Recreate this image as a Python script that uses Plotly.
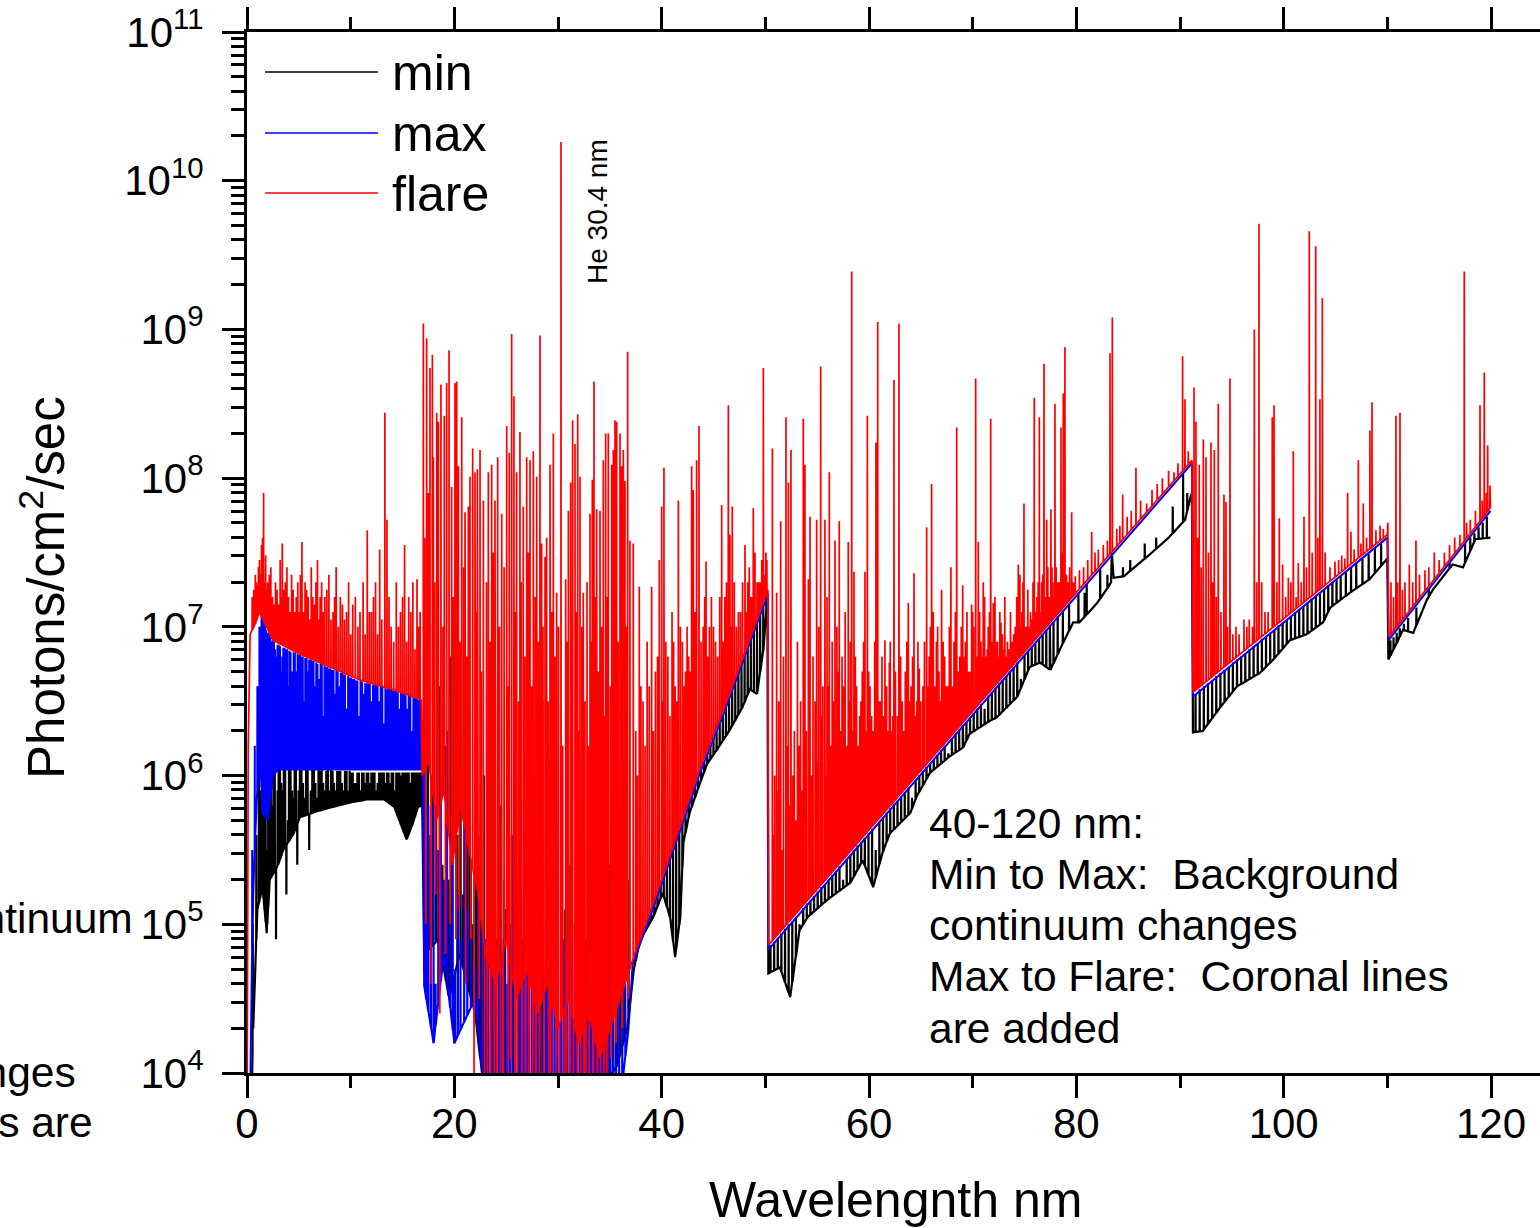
import numpy as np
import plotly.graph_objects as go

# ---------------- DATA (wavelength nm, log10 photons/cm^2/s) ----------------
# continuum knots and line tips

flare_continuum = [
    (0.00, 3.5), (0.12, 6.2), (0.30, 6.95), (0.80, 7.02), (1.20, 7.10), (2.50, 6.91), (5.00, 6.82),
    (8.00, 6.73), (11.0, 6.64), (14.0, 6.58), (16.80, 6.51),
    (16.90, 6.0), (17.5, 6.1), (18.3, 5.7), (19.0, 5.9), (19.8, 5.4), (20.6, 5.8), (21.4, 5.5),
    (22.3, 5.2), (23.0, 4.8), (24.0, 4.6), (25.0, 4.9), (26.0, 4.5), (27.0, 4.7), (28.0, 4.4),
    (29.0, 4.6), (30.0, 4.3), (31.0, 4.5), (32.0, 4.2), (33.0, 4.4), (34.0, 4.1), (35.0, 4.3),
    (36.0, 4.5), (37.2, 4.76), (40.0, 5.30), (43.7, 6.05), (46.0, 6.45), (48.0, 6.82), (50.25, 7.25),
    (50.30, 4.86), (91.15, 8.12), (91.25, 6.56), (110.0, 7.62), (110.05, 7.70), (110.12, 6.93),
    (119.95, 7.80),
]

flare_lines_xray = [
    (0.5, 7.20), (0.8, 7.35), (1.0, 7.28), (1.2, 7.45), (1.4, 7.55), (1.6, 7.90), (1.8, 7.48),
    (2.0, 7.30), (2.3, 7.40), (2.6, 7.15), (2.9, 7.25), (3.2, 7.45), (3.4, 7.56), (3.7, 7.30),
    (4.0, 7.20), (4.3, 7.35), (4.6, 7.10), (4.9, 7.30), (5.3, 7.57), (5.6, 7.30), (5.9, 7.20),
    (6.2, 7.40), (6.5, 7.15), (6.8, 7.45), (7.2, 7.30), (7.5, 7.20), (7.9, 7.35), (8.3, 7.10),
    (8.6, 7.40), (9.0, 7.20), (9.4, 7.05), (9.8, 7.30), (10.2, 7.15), (10.7, 7.00), (11.2, 7.30),
    (11.6, 7.65), (12.0, 7.10), (12.4, 7.30), (12.8, 7.52), (13.3, 8.44), (13.5, 7.72), (13.9, 7.00),
    (14.4, 7.30), (14.8, 7.10), (15.2, 7.55), (15.6, 7.20), (16.0, 7.30), (16.4, 7.32), (16.7, 7.10),
]

flare_lines_xray_weak = [
    (0.65, 7.25), (0.9, 7.3), (1.1, 7.4), (1.3, 7.35), (1.5, 7.6), (1.7, 7.3), (1.9, 7.25), (2.15, 7.35),
    (2.45, 7.2), (2.75, 7.3), (3.05, 7.15), (3.3, 7.2), (3.55, 7.25), (3.85, 7.4), (4.15, 7.1), (4.45, 7.25),
    (4.75, 7.2), (5.05, 7.1), (5.15, 7.35), (5.45, 7.1), (5.75, 7.25), (6.05, 7.05), (6.35, 7.2), (6.65, 7.3),
    (6.95, 7.05), (7.05, 7.2), (7.35, 7.1), (7.7, 7.25), (8.1, 7.05), (8.45, 7.2), (8.8, 7.0), (9.2, 7.15),
    (9.6, 7.1), (10.0, 6.95), (10.45, 7.2), (10.9, 7.1), (11.4, 6.95), (11.8, 7.1), (12.2, 7.2), (12.6, 6.95),
    (13.0, 7.05), (13.7, 7.2), (14.15, 6.9), (14.6, 7.0), (15.0, 7.2), (15.4, 6.9), (15.8, 7.1), (16.2, 6.85),
    (16.55, 7.0),
]

flare_lines_euv = [
    (17.01, 9.04), (17.33, 8.94), (17.65, 8.74), (17.88, 8.83), (17.97, 8.14), (18.30, 8.44),
    (18.46, 8.38), (18.71, 8.63), (19.03, 8.42), (19.26, 8.64), (19.49, 8.86), (19.74, 7.94),
    (20.06, 8.64), (20.23, 8.65), (20.39, 8.08), (20.71, 8.41), (21.03, 7.77), (21.35, 7.81),
    (21.51, 8.01), (21.77, 8.20), (21.99, 8.04), (22.22, 8.06), (22.48, 8.19), (22.80, 7.85),
    (23.28, 8.04), (23.60, 8.09), (23.92, 7.85), (24.18, 8.14), (24.57, 7.76), (25.05, 8.35),
    (25.30, 8.17), (25.53, 8.97), (25.75, 8.55), (26.01, 8.04), (26.33, 8.31), (26.65, 7.81),
    (26.98, 8.14), (27.30, 8.12), (27.62, 8.18), (27.94, 8.01), (28.26, 8.96), (28.42, 7.56),
    (28.75, 7.47), (29.23, 8.09), (29.55, 8.30), (29.87, 7.23), (30.29, 10.26), (30.74, 7.32),
    (31.00, 7.78), (31.22, 7.97), (31.41, 8.39), (31.64, 8.23), (31.90, 8.43), (32.12, 8.01),
    (32.44, 7.23), (33.09, 7.76), (33.31, 7.99), (33.47, 8.65), (33.73, 7.79), (34.05, 7.78),
    (34.37, 8.12), (34.60, 8.30), (34.85, 8.30), (35.18, 8.09), (35.34, 8.19), (35.50, 8.39),
    (35.66, 8.38), (35.98, 8.30), (36.14, 8.08), (36.30, 8.19), (36.46, 7.98), (36.72, 8.85),
    (36.94, 7.58),
]

flare_lines_euv_weak = [
    (17.15, 7.6), (17.5, 7.9), (18.1, 7.3), (18.9, 7.0), (19.9, 7.2), (20.55, 6.9), (20.9, 7.4),
    (21.2, 6.8), (22.05, 7.1), (22.6, 6.7), (23.1, 7.3), (23.45, 6.9), (23.75, 7.5), (24.35, 7.0),
    (24.8, 7.4), (25.15, 6.6), (25.9, 7.1), (26.2, 6.5), (26.45, 7.3), (26.8, 6.8), (27.15, 7.5),
    (27.45, 6.6), (27.8, 7.2), (28.1, 6.9), (28.55, 7.0), (28.9, 7.6), (29.05, 6.5), (29.4, 7.1),
    (29.7, 6.8), (30.05, 7.0), (30.45, 6.2), (30.9, 6.9), (31.3, 6.6), (31.75, 7.1), (32.0, 6.3),
    (32.3, 7.0), (32.6, 6.5), (32.8, 7.3), (32.95, 6.2), (33.2, 6.9), (33.6, 7.2), (33.9, 6.7),
    (34.2, 7.0), (34.5, 6.4), (34.75, 7.2), (35.05, 6.6), (35.4, 7.0), (35.8, 6.9), (36.05, 7.3),
    (36.6, 7.0),
]

flare_dips_euv = [
    (17.25, 5.0), (17.75, 4.6), (18.2, 5.2), (18.6, 4.4), (19.15, 4.8), (19.6, 5.0), (20.15, 4.9),
    (20.5, 5.1), (21.1, 4.6), (21.6, 4.9), (21.9, 4.0), (22.4, 4.5), (22.9, 3.8), (23.2, 4.0),
    (23.5, 3.8), (23.85, 3.9), (24.1, 3.8), (24.45, 4.0), (24.7, 3.8), (25.2, 3.8), (25.45, 4.1),
    (25.85, 3.8), (26.1, 3.9), (26.55, 3.8), (26.9, 4.0), (27.2, 3.8), (27.55, 3.9), (27.85, 3.8),
    (28.2, 3.9), (28.65, 3.8), (29.1, 3.9), (29.3, 3.8), (29.8, 4.0), (30.15, 3.8), (30.6, 3.9),
    (30.8, 3.8), (31.15, 3.9), (31.5, 3.8), (31.85, 4.0), (32.2, 3.8), (32.5, 3.9), (32.7, 3.8),
    (33.0, 3.9), (33.4, 3.8), (33.8, 4.0), (34.1, 3.8), (34.45, 4.0), (34.7, 3.9), (35.1, 4.1),
    (35.6, 4.2), (36.2, 4.3), (36.8, 4.5),
]

flare_lines_40_50 = [
    (37.26, 7.56), (37.5, 6.3), (37.84, 7.27), (38.2, 6.5), (38.6, 6.9), (39.03, 7.27), (39.4, 6.7),
    (39.77, 7.45), (40.00, 7.81), (40.22, 8.07), (40.6, 6.8), (41.0, 7.1), (41.3, 6.6), (41.61, 7.85),
    (42.0, 6.9), (42.3, 6.7), (42.6, 6.8), (42.89, 8.08), (43.05, 7.92), (43.37, 8.12), (43.60, 8.35),
    (44.0, 7.0), (44.28, 7.44), (44.6, 7.0), (45.0, 7.0), (45.4, 6.8), (45.79, 7.82), (46.1, 7.2),
    (46.43, 8.49), (46.59, 7.62), (46.81, 7.81), (47.2, 7.0), (47.6, 7.1), (48.04, 7.55), (48.3, 7.3),
    (48.6, 7.2), (48.84, 7.80), (49.2, 7.3), (49.5, 7.3), (49.81, 8.74), (50.05, 7.5),
]

flare_lines_40_50_weak = [
    (37.65, 6.0), (38.0, 6.6), (38.4, 6.2), (38.8, 6.6), (39.2, 6.3), (39.6, 6.8), (40.1, 6.5), (40.4, 6.9),
    (40.8, 6.4), (41.15, 6.9), (41.45, 6.5), (41.8, 7.0), (42.15, 6.6), (42.45, 7.0), (42.75, 6.7),
    (43.2, 7.1), (43.8, 6.9), (44.15, 7.2), (44.45, 6.8), (44.8, 7.2), (45.2, 6.9), (45.6, 7.2),
    (45.95, 6.9), (46.25, 7.3), (46.7, 7.0), (47.0, 7.3), (47.4, 7.1), (47.8, 7.3), (48.15, 7.1),
    (48.45, 7.4), (48.72, 7.2), (49.0, 7.5), (49.35, 7.3), (49.65, 7.45), (49.95, 7.35), (50.15, 7.45),
]

flare_lines_50_91 = [
    (50.68, 8.20), (50.9, 6.0), (51.09, 7.23), (51.30, 6.5), (51.48, 7.71), (51.75, 6.8), (51.99, 8.41),
    (52.22, 7.97), (52.47, 8.19), (52.8, 6.3), (53.1, 6.9), (53.4, 6.5), (53.66, 8.40), (53.82, 8.09),
    (54.15, 7.32), (54.31, 7.74), (54.6, 6.8), (54.95, 7.72), (55.15, 7.0), (55.34, 8.75), (55.55, 6.6),
    (55.75, 7.72), (55.95, 7.2), (56.17, 8.04), (56.45, 6.9), (56.72, 7.58), (56.9, 7.0), (57.13, 7.71),
    (57.4, 6.8), (57.7, 7.1), (58.00, 7.57), (58.2, 6.9), (58.33, 9.39), (58.55, 7.37), (58.8, 6.6),
    (59.1, 6.4), (59.35, 6.7), (59.61, 7.37), (59.84, 8.42), (60.1, 6.6), (60.4, 6.3), (60.67, 8.24),
    (60.84, 9.05), (61.1, 6.5), (61.54, 6.91), (61.96, 6.76), (62.2, 6.3), (62.41, 8.66), (62.89, 9.04),
    (63.2, 6.5), (63.5, 6.7), (63.79, 7.16), (64.05, 6.6), (64.34, 7.36), (64.6, 6.5), (64.85, 6.72),
    (65.2, 6.6), (65.56, 7.67), (65.8, 6.8), (66.04, 7.96), (66.20, 7.10), (66.5, 6.9), (66.75, 6.7),
    (67.00, 7.25), (67.3, 6.8), (67.6, 6.6), (67.90, 7.40), (68.2, 6.9), (68.46, 8.34), (68.75, 6.8),
    (69.04, 7.28), (69.3, 6.9), (69.6, 6.7), (69.90, 7.15), (70.10, 7.0), (70.29, 8.67), (70.54, 7.57),
    (70.8, 6.9), (71.02, 7.30), (71.3, 6.8), (71.50, 7.0), (71.74, 8.40), (71.99, 7.16), (72.3, 6.9),
    (72.50, 6.8), (72.73, 7.03), (73.0, 6.85), (73.21, 6.80), (73.5, 6.85), (73.8, 6.9), (74.1, 7.0),
    (74.40, 7.42), (74.56, 7.35), (74.75, 7.1), (74.95, 7.83), (75.2, 7.0), (75.45, 7.0), (75.69, 7.05),
    (75.94, 8.54), (76.2, 7.2), (76.43, 8.41), (76.65, 7.3), (76.88, 8.77), (77.14, 7.72), (77.35, 7.2),
    (77.55, 7.79), (77.75, 7.3), (77.94, 8.50), (78.2, 7.3), (78.52, 8.34), (78.74, 8.57), (78.90, 8.88),
    (79.2, 7.3), (79.55, 7.77), (79.9, 7.34), (80.3, 7.38), (80.7, 7.40), (81.1, 7.45), (81.48, 7.64),
    (81.8, 7.50), (82.12, 7.52), (82.6, 7.55), (83.0, 7.58), (83.25, 8.84), (83.47, 9.08), (83.9, 7.66),
    (84.2, 7.68), (84.47, 7.89), (84.9, 7.74), (85.3, 7.78), (85.75, 8.07), (86.2, 7.85), (86.78, 7.83),
    (87.3, 7.92), (87.8, 7.96), (88.3, 8.00), (88.9, 8.05), (89.42, 8.04), (89.8, 8.10), (90.25, 8.82),
    (90.48, 8.53), (90.8, 8.18),
]

flare_lines_50_80_weak = [
    (50.8, 5.6), (51.2, 5.9), (51.6, 5.5), (52.1, 6.2), (52.35, 5.8), (52.65, 6.0), (52.95, 5.7),
    (53.25, 6.2), (53.55, 5.9), (53.95, 6.3), (54.45, 6.0), (54.8, 6.5), (55.05, 6.1), (55.45, 6.4),
    (55.85, 6.0), (56.05, 6.6), (56.3, 6.2), (56.6, 6.5), (56.8, 6.1), (57.0, 6.7), (57.25, 6.3),
    (57.55, 6.6), (57.85, 6.2), (58.1, 6.5), (58.45, 6.3), (58.68, 6.8), (58.95, 6.2), (59.22, 6.5),
    (59.48, 6.9), (59.72, 6.3), (59.97, 6.7), (60.25, 6.4), (60.55, 6.9), (60.95, 6.5), (61.25, 6.8),
    (61.4, 6.4), (61.7, 6.6), (61.85, 6.3), (62.05, 6.9), (62.3, 6.4), (62.55, 6.7), (62.75, 6.4),
    (63.05, 6.8), (63.35, 6.3), (63.65, 6.9), (63.92, 6.5), (64.2, 6.8), (64.45, 6.4), (64.72, 6.9),
    (65.0, 6.5), (65.35, 6.9), (65.68, 6.6), (65.92, 7.0), (66.35, 6.6), (66.62, 7.0), (66.88, 6.5),
    (67.15, 6.9), (67.45, 6.6), (67.75, 7.0), (68.05, 6.6), (68.33, 7.1), (68.6, 6.7), (68.9, 7.0),
    (69.17, 6.8), (69.45, 7.1), (69.75, 6.7), (70.0, 7.1), (70.42, 6.8), (70.67, 7.1), (70.92, 6.8),
    (71.15, 7.2), (71.4, 6.85), (71.62, 7.1), (71.87, 6.9), (72.15, 7.2), (72.4, 6.9), (72.62, 7.1),
    (72.87, 6.95), (73.1, 7.2), (73.35, 6.9), (73.65, 7.1), (73.95, 6.95), (74.25, 7.2), (74.65, 7.0),
    (74.85, 7.3), (75.1, 7.0), (75.32, 7.25), (75.57, 7.1), (75.82, 7.3), (76.07, 7.1), (76.32, 7.3),
    (76.55, 7.1), (76.77, 7.35), (77.0, 7.2), (77.25, 7.4), (77.45, 7.2), (77.65, 7.4), (77.85, 7.2),
    (78.05, 7.4), (78.35, 7.3), (78.62, 7.5), (79.05, 7.35), (79.35, 7.4), (79.72, 7.3),
]

flare_lines_91_120 = [
    (91.35, 8.61), (91.54, 8.38), (91.70, 7.6), (91.86, 8.09), (92.05, 7.4), (92.25, 8.26), (92.51, 8.14),
    (92.75, 7.5), (92.99, 8.24), (93.15, 7.3), (93.31, 8.19), (93.50, 7.2), (93.69, 8.50), (93.95, 7.1),
    (94.24, 7.89), (94.43, 7.84), (94.60, 7.0), (94.82, 8.67), (95.10, 6.95), (95.40, 7.0), (95.70, 6.95),
    (96.17, 7.05), (96.45, 7.0), (96.68, 7.05), (97.0, 7.0), (97.17, 9.00), (97.40, 7.3), (97.62, 9.71),
    (97.88, 7.30), (98.2, 7.1), (98.5, 7.1), (98.90, 8.41), (99.07, 8.49), (99.35, 7.3), (99.58, 7.73),
    (99.90, 7.42), (100.2, 7.2), (100.45, 7.33), (100.7, 7.3), (100.93, 8.18), (101.2, 7.2), (101.41, 7.43),
    (101.7, 7.3), (101.96, 7.74), (102.2, 7.4), (102.47, 9.66), (102.75, 7.5), (103.09, 9.56), (103.30, 7.6),
    (103.50, 8.53), (103.73, 9.21), (104.0, 7.5), (104.47, 7.40), (104.95, 7.44), (105.3, 7.45), (105.6, 7.48),
    (105.9, 7.46), (106.17, 7.90), (106.49, 7.64), (106.8, 7.52), (107.20, 8.12), (107.45, 7.56), (107.68, 7.83),
    (108.0, 7.6), (108.32, 8.32), (108.52, 8.51), (108.9, 7.65), (109.3, 7.68), (109.61, 7.66),
    (110.35, 7.3), (110.60, 7.2), (110.83, 8.42), (111.00, 7.3), (111.22, 8.44), (111.45, 7.25), (111.70, 7.3),
    (112.12, 7.42), (112.45, 7.3), (112.76, 7.58), (113.1, 7.35), (113.63, 7.38), (114.0, 7.4), (114.53, 7.50),
    (115.0, 7.45), (115.5, 7.5), (116.0, 7.55), (116.5, 7.6), (117.0, 7.62), (117.42, 9.39), (117.65, 7.7),
    (118.0, 7.72), (118.5, 7.78), (118.94, 8.49), (119.15, 7.85), (119.35, 8.71), (119.55, 7.9), (119.68, 8.22),
    (119.90, 7.95),
]

max_continuum = [
    (0.00, 3.5), (0.30, 3.8), (0.45, 4.6), (0.60, 5.2), (0.80, 5.6), (1.00, 5.9), (1.30, 6.1), (1.50, 5.75),
    (2.00, 5.70), (2.50, 6.0), (3.00, 6.04), (16.95, 6.04),
    (17.05, 4.6), (18.0, 4.2), (19.0, 4.8), (20.0, 4.2), (22.0, 4.5), (23.0, 3.8), (36.0, 3.8), (36.8, 4.3),
    (37.2, 4.73), (40.0, 5.27), (43.7, 6.02), (46.0, 6.42), (48.0, 6.79), (50.25, 7.22),
    (50.30, 4.83), (91.15, 8.10), (91.25, 6.53), (110.0, 7.60), (110.12, 6.91), (119.95, 7.78),
]

max_lines_xray = [
    (0.5, 5.5), (0.75, 6.2), (1.0, 6.6), (1.2, 7.0), (1.4, 7.15), (1.55, 7.05), (1.75, 7.02), (1.95, 6.95),
    (2.15, 6.95), (2.35, 6.9), (2.6, 6.90), (2.85, 6.8), (3.05, 6.88), (3.3, 6.7), (3.5, 6.86), (3.75, 6.85),
    (4.0, 6.6), (4.2, 6.83), (4.5, 6.83), (4.75, 6.7), (5.0, 6.81), (5.25, 6.80), (5.5, 6.5), (5.75, 6.79),
    (6.0, 6.78), (6.3, 6.77), (6.55, 6.6), (6.8, 6.75), (7.1, 6.75), (7.35, 6.4), (7.6, 6.73), (7.9, 6.72),
    (8.2, 6.71), (8.5, 6.55), (8.75, 6.70), (9.05, 6.69), (9.3, 6.68), (9.6, 6.45), (9.9, 6.66), (10.2, 6.65),
    (10.5, 6.64), (10.8, 6.4), (11.1, 6.63), (11.4, 6.62), (11.7, 6.62), (12.0, 6.5), (12.3, 6.61), (12.6, 6.60),
    (12.9, 6.60), (13.2, 6.35), (13.5, 6.58), (13.8, 6.58), (14.1, 6.57), (14.4, 6.57), (14.7, 6.45), (15.0, 6.55),
    (15.3, 6.54), (15.6, 6.54), (15.9, 6.3), (16.2, 6.52), (16.5, 6.51), (16.8, 6.50),
]

max_lines_xray_weak = [
    (1.65, 7.03), (1.85, 6.98), (2.05, 6.96), (2.25, 6.93), (2.48, 6.91), (2.72, 6.85), (2.95, 6.88),
    (3.18, 6.87), (3.4, 6.8), (3.62, 6.86), (3.88, 6.85), (4.1, 6.84), (4.35, 6.7), (4.62, 6.83),
    (4.88, 6.82), (5.12, 6.81), (5.38, 6.80), (5.62, 6.79), (5.88, 6.7), (6.15, 6.78), (6.42, 6.77),
    (6.68, 6.76), (6.95, 6.65), (7.22, 6.75), (7.48, 6.74), (7.75, 6.73), (8.05, 6.72), (8.35, 6.71),
    (8.62, 6.71), (8.9, 6.6), (9.18, 6.69), (9.45, 6.68), (9.75, 6.67), (10.05, 6.66), (10.35, 6.65),
    (10.65, 6.64), (10.95, 6.64), (11.25, 6.55), (11.55, 6.62), (11.85, 6.62), (12.15, 6.61), (12.45, 6.61),
    (12.75, 6.5), (13.05, 6.60), (13.35, 6.59), (13.65, 6.59), (13.95, 6.58), (14.25, 6.57), (14.55, 6.56),
    (14.85, 6.56), (15.15, 6.55), (15.45, 6.45), (15.75, 6.54), (16.05, 6.53), (16.35, 6.52), (16.65, 6.51),
]

max_lines_euv = [
    (17.1, 6.5), (17.3, 5.0), (17.5, 5.8), (17.75, 4.9), (18.0, 6.2), (18.2, 4.6), (18.45, 5.5), (18.7, 6.0),
    (19.0, 5.3), (19.3, 6.3), (19.6, 5.0), (19.85, 5.7), (20.1, 4.7), (20.35, 5.2), (20.6, 4.9), (20.95, 6.0),
    (21.25, 5.1), (21.6, 5.4), (22.0, 4.7), (22.3, 5.6), (22.65, 5.0), (23.0, 4.9), (23.3, 5.5), (23.55, 4.8),
    (23.8, 5.2), (24.05, 4.7), (24.3, 5.9), (24.55, 4.9), (24.8, 5.3), (25.1, 4.6), (25.35, 5.0), (25.6, 5.6),
    (25.9, 4.7), (26.15, 5.2), (26.4, 4.9), (26.7, 5.4), (27.0, 4.8), (27.25, 5.1), (27.5, 4.6), (27.75, 5.3),
    (28.0, 4.9), (28.3, 5.6), (28.6, 4.7), (28.85, 5.2), (29.1, 5.0), (29.4, 5.5), (29.65, 4.8), (29.95, 5.3),
    (30.3, 6.2), (30.55, 4.9), (30.85, 5.4), (31.1, 4.7), (31.35, 6.1), (31.6, 5.0), (31.85, 6.3), (32.1, 5.1),
    (32.4, 5.5), (32.65, 4.8), (32.9, 5.2), (33.2, 4.9), (33.45, 5.4), (33.7, 4.7), (33.95, 5.0), (34.25, 4.8),
    (34.5, 5.2), (34.8, 4.7), (35.05, 4.9), (35.35, 4.6), (35.6, 4.8), (35.9, 4.6), (36.2, 4.7), (36.5, 4.6),
]

min_continuum = [
    (0.00, 3.5), (0.45, 3.8), (0.60, 4.3), (0.80, 4.7), (1.00, 5.1), (1.50, 5.25), (1.90, 4.94), (2.20, 5.30),
    (3.00, 5.40), (3.50, 5.50), (4.50, 5.61), (5.10, 5.72), (6.70, 5.76), (8.30, 5.79), (10.0, 5.82),
    (11.6, 5.84), (13.2, 5.84), (14.2, 5.79), (14.8, 5.68), (15.4, 5.57), (16.0, 5.68), (16.5, 5.79),
    (16.9, 5.8), (17.1, 4.8), (18.5, 4.9), (19.5, 4.5), (20.5, 4.8), (22.0, 4.4), (23.0, 3.8), (33.9, 3.8),
    (34.7, 3.95), (35.7, 4.05), (36.7, 4.31), (37.3, 4.69), (37.9, 4.89), (39.2, 5.05), (40.1, 5.21),
    (40.8, 5.05), (41.3, 4.78), (41.8, 5.05), (42.1, 5.55), (42.7, 5.75), (43.7, 5.95), (44.4, 6.08),
    (45.3, 6.17), (46.6, 6.31), (47.8, 6.46), (48.5, 6.58), (49.2, 6.55), (49.8, 6.84), (50.2, 7.20),
    (50.29, 4.67), (51.4, 4.71), (52.4, 4.51), (53.3, 4.96), (54.1, 5.05), (55.9, 5.16), (58.2, 5.28),
    (59.4, 5.43), (60.4, 5.25), (61.3, 5.48), (62.0, 5.61), (64.0, 5.75), (64.6, 5.86), (65.9, 6.02),
    (67.8, 6.13), (69.1, 6.19), (69.7, 6.28), (71.7, 6.37), (72.3, 6.39), (74.3, 6.53), (75.5, 6.73),
    (76.5, 6.76), (77.5, 6.71), (78.7, 6.89), (79.7, 7.03), (80.3, 7.03), (82.0, 7.16), (83.1, 7.27),
    (83.35, 7.30), (83.42, 7.50), (83.6, 7.33), (84.6, 7.34), (85.6, 7.40), (87.3, 7.50), (88.9, 7.60),
    (90.5, 7.72), (91.0, 7.87), (91.15, 7.90),
    (91.25, 6.29), (92.2, 6.30), (93.9, 6.46), (95.5, 6.60), (96.5, 6.64), (97.7, 6.69), (99.0, 6.78),
    (100.6, 6.91), (102.2, 6.95), (103.8, 7.03), (104.5, 7.13), (106.4, 7.23), (108.3, 7.32), (110.0, 7.46),
    (110.1, 6.78), (110.9, 6.89), (111.5, 6.98), (112.5, 6.96), (113.8, 7.18), (114.4, 7.25), (116.3, 7.42),
    (117.3, 7.40), (118.5, 7.59), (119.95, 7.60),
]

min_lines_xray = [
    (0.55, 5.0), (0.9, 5.6), (1.15, 6.0), (1.35, 5.9), (1.6, 6.2), (1.8, 5.8), (2.05, 6.18), (2.3, 5.9),
    (2.55, 6.15), (2.8, 4.9), (3.05, 6.12), (3.3, 5.95), (3.55, 6.1), (3.8, 5.2), (4.05, 6.1), (4.35, 5.9),
    (4.6, 6.08), (4.85, 5.4), (5.1, 6.07), (5.4, 5.95), (5.7, 6.06), (6.0, 5.5), (6.3, 6.05), (6.6, 5.95),
    (6.9, 6.05), (7.2, 6.04), (7.5, 5.9), (7.8, 6.04), (8.1, 6.04), (8.4, 5.95), (8.7, 6.03), (9.0, 6.03),
    (9.3, 5.9), (9.6, 6.03), (9.9, 6.03), (10.2, 6.02), (10.5, 5.95), (10.8, 6.02), (11.1, 6.02), (11.4, 5.95),
    (11.7, 6.02), (12.0, 6.02), (12.3, 6.02), (12.6, 5.95), (12.9, 6.02), (13.2, 6.02), (13.5, 6.02),
    (13.8, 5.95), (14.1, 6.02), (14.4, 6.02), (14.7, 6.02), (15.0, 6.02), (15.3, 6.02), (15.6, 6.02),
    (15.9, 6.02), (16.2, 6.02), (16.5, 6.02), (16.8, 6.02),
]

min_lines_xray_weak = [
    (1.25, 5.8), (1.45, 6.1), (1.7, 6.0), (1.95, 5.5), (2.2, 6.1), (2.45, 5.8), (2.68, 6.1), (2.95, 5.9),
    (3.18, 6.1), (3.42, 5.9), (3.68, 6.05), (3.95, 5.7), (4.2, 6.05), (4.48, 5.85), (4.72, 6.05), (4.98, 5.9),
    (5.25, 6.05), (5.55, 5.85), (5.85, 6.04), (6.15, 5.9), (6.45, 6.04), (6.75, 5.85), (7.05, 6.03),
    (7.35, 5.95), (7.65, 6.03), (7.95, 5.9), (8.25, 6.03), (8.55, 5.9), (8.85, 6.03), (9.15, 5.95),
    (9.45, 6.03), (9.75, 5.9), (10.05, 6.02), (10.35, 5.95), (10.65, 6.02), (10.95, 5.9), (11.25, 6.02),
    (11.55, 6.02), (11.85, 5.95), (12.15, 6.02), (12.45, 5.9), (12.75, 6.02), (13.05, 6.02), (13.35, 5.95),
    (13.65, 6.02), (13.95, 6.02), (14.25, 5.9), (14.55, 6.02), (14.85, 6.0), (15.15, 6.02), (15.45, 6.02),
    (15.75, 5.95), (16.05, 6.02), (16.35, 6.02), (16.65, 6.02),
]

min_lines_euv = [
    (17.2, 6.5), (17.45, 6.1), (17.7, 5.6), (17.95, 6.3), (18.25, 5.7), (18.6, 6.6), (18.85, 5.4), (19.2, 6.2),
    (19.45, 5.3), (19.7, 6.8), (20.0, 4.2), (20.3, 5.6), (20.6, 6.3), (20.85, 5.2), (21.2, 6.1), (21.45, 5.8),
    (21.8, 5.0), (22.1, 6.2), (22.5, 5.4), (22.85, 6.0), (23.2, 5.0), (23.6, 5.5), (24.0, 4.9), (24.4, 5.8),
    (24.9, 5.1), (25.3, 5.6), (25.7, 4.8), (26.2, 5.3), (26.6, 4.9), (27.1, 5.5), (27.6, 5.0), (28.1, 5.7),
    (28.5, 6.5), (28.9, 5.2), (29.3, 5.5), (29.8, 4.9), (30.3, 6.0), (30.7, 5.1), (31.2, 5.4), (31.7, 5.0),
    (32.2, 5.3), (32.7, 4.9), (33.2, 5.2), (33.6, 5.6), (34.0, 6.0), (34.3, 6.4), (34.6, 5.8), (35.0, 5.4),
    (35.3, 5.9), (35.7, 5.2), (36.0, 5.5), (36.4, 5.0), (36.8, 5.3),
]

min_lines_40_50 = [
    (37.5, 4.80), (37.8, 4.86), (38.1, 4.92), (38.4, 4.97), (38.7, 5.03), (39.0, 5.09), (39.3, 5.15),
    (39.6, 5.21), (39.9, 5.26), (40.2, 5.32), (40.5, 5.38), (40.8, 5.44), (41.1, 5.50), (41.4, 5.56),
    (41.7, 5.62), (42.0, 5.68), (42.3, 5.74), (42.6, 5.80), (42.9, 5.86), (43.2, 5.92), (43.5, 5.98),
    (43.8, 6.04), (44.1, 6.09), (44.4, 6.15), (44.7, 6.20), (45.0, 6.25), (45.3, 6.30), (45.6, 6.35),
    (45.9, 6.41), (46.2, 6.46), (46.5, 6.52), (46.8, 6.57), (47.1, 6.63), (47.4, 6.69), (47.7, 6.74),
    (48.0, 6.80), (48.3, 6.85), (48.6, 6.91), (48.9, 6.97), (49.2, 7.03), (49.5, 7.08), (49.8, 7.14),
    (50.1, 7.20),
]

min_lines_50_91 = [
    (50.5, 4.86), (50.85, 4.88), (51.2, 4.91), (51.55, 4.94), (51.9, 4.97), (52.25, 5.00), (52.6, 5.02),
    (52.95, 5.05), (53.3, 5.0), (53.65, 5.11), (54.0, 5.14), (54.35, 5.16), (54.7, 5.19), (55.05, 5.22),
    (55.4, 5.25), (55.75, 5.27), (56.1, 5.30), (56.45, 5.33), (56.8, 5.36), (57.15, 5.39), (57.5, 5.3),
    (57.85, 5.44), (58.2, 5.47), (58.55, 5.50), (58.9, 5.53), (59.25, 5.55), (59.6, 5.58), (59.95, 5.61),
    (60.3, 5.64), (60.65, 5.5), (61.0, 5.69), (61.35, 5.72), (61.7, 5.75), (62.05, 5.78), (62.4, 5.81),
    (62.75, 5.83), (63.1, 5.86), (63.45, 5.89), (63.8, 5.92), (64.15, 5.85), (64.5, 5.97), (64.85, 6.00),
    (65.2, 6.03), (65.55, 6.06), (65.9, 6.08), (66.25, 6.11), (66.6, 6.14), (66.95, 6.17), (67.3, 6.20),
    (67.65, 6.15), (68.0, 6.25), (68.35, 6.28), (68.7, 6.31), (69.05, 6.34), (69.4, 6.36), (69.75, 6.39),
    (70.1, 6.42), (70.45, 6.45), (70.8, 6.48), (71.15, 6.45), (71.5, 6.53), (71.85, 6.56), (72.2, 6.59),
    (72.55, 6.62), (72.9, 6.64), (73.25, 6.67), (73.6, 6.70), (73.95, 6.73), (74.3, 6.76), (74.65, 6.65),
    (75.0, 6.81), (75.35, 6.84), (75.7, 6.87), (76.05, 6.89), (76.4, 6.92), (76.75, 6.95), (77.1, 6.98),
    (77.45, 7.01), (77.8, 7.03), (78.2, 7.07), (78.7, 7.11), (79.3, 7.15), (80.2, 7.23), (80.8, 7.23),
    (81.0, 7.29), (82.3, 7.39), (83.0, 7.35), (84.5, 7.40), (85.2, 7.45), (86.6, 7.56), (87.7, 7.60),
    (89.3, 7.81), (90.3, 8.03), (90.7, 7.90),
]

min_lines_91_120 = [
    (91.5, 6.55), (91.9, 6.58), (92.3, 6.60), (92.7, 6.62), (93.1, 6.64), (93.5, 6.67), (93.9, 6.69),
    (94.3, 6.71), (94.7, 6.73), (95.1, 6.76), (95.5, 6.78), (95.9, 6.80), (96.3, 6.82), (96.7, 6.85),
    (97.1, 6.87), (97.5, 6.89), (97.9, 6.92), (98.3, 6.94), (98.7, 6.96), (99.1, 6.98), (99.5, 7.01),
    (99.9, 7.03), (100.3, 7.05), (100.7, 7.07), (101.1, 7.10), (101.5, 7.12), (101.9, 7.14), (102.3, 7.16),
    (102.7, 7.19), (103.1, 7.21), (103.5, 7.23), (103.9, 7.25), (104.3, 7.28), (104.7, 7.30), (105.1, 7.32),
    (105.5, 7.34), (106.0, 7.37), (106.5, 7.40), (107.0, 7.43), (107.6, 7.46), (108.2, 7.49), (108.8, 7.53),
    (109.4, 7.56),
    (110.3, 6.91), (110.6, 6.93), (110.9, 6.96), (111.2, 6.99), (111.6, 7.02), (112.0, 7.06), (112.8, 7.13),
    (114.0, 7.26), (116.0, 7.43), (117.5, 7.56), (118.0, 7.60), (118.4, 7.63), (118.8, 7.67), (119.2, 7.70),
    (119.6, 7.74),
]

x_major_ticks = [0, 20, 40, 60, 80, 100, 120]
x_minor_ticks = [10, 30, 50, 70, 90, 110]
y_major_exps = [4, 5, 6, 7, 8, 9, 10, 11]

legend_labels = ["min", "max", "flare"]
series_colors = ["#000000", "#0000ff", "#ff0000"]
series_widths = [2.2, 2.0, 1.7]

# ---------------- BUILD ----------------
FONT = "Arial, Liberation Sans, Helvetica, sans-serif"
W, H = 1540, 1228
L, R, T, B = 247, 0, 32, 155
PW, PH = W - L - R, H - T - B
X_MAX = PW / ((1491 - 247) / 120.0)


def px(x):
    return (x - L) / PW


def py(y):
    return (H - B - y) / PH


def spectrum(cont, line_sets, d=0.012):
    cw = np.array([p[0] for p in cont])
    cl = np.array([p[1] for p in cont])
    pts = [(w, l) for w, l in cont]
    for lines in line_sets:
        for w, t in lines:
            b = float(np.interp(w, cw, cl))
            pts += [(w - d, b), (w, t), (w + d, b)]
    pts.sort(key=lambda p: p[0])
    return [p[0] for p in pts], [10 ** p[1] for p in pts]


series = [
    (min_continuum, [min_lines_xray, min_lines_xray_weak, min_lines_euv, min_lines_40_50,
                     min_lines_50_91, min_lines_91_120]),
    (max_continuum, [max_lines_xray, max_lines_xray_weak, max_lines_euv]),
    (flare_continuum, [flare_lines_xray, flare_lines_xray_weak, flare_lines_euv, flare_lines_euv_weak,
                       flare_dips_euv, flare_lines_40_50, flare_lines_40_50_weak, flare_lines_50_91,
                       flare_lines_50_80_weak, flare_lines_91_120]),
]

fig = go.Figure()
for (cont, lsets), name, color, lw in zip(series, legend_labels, series_colors, series_widths):
    xs, ys = spectrum(cont, lsets)
    fig.add_trace(go.Scatter(x=xs, y=ys, mode="lines", name=name,
                             line=dict(color=color, width=lw), hoverinfo="skip", showlegend=False))

y_minor = [m * 10 ** e for e in range(4, 11) for m in range(2, 10)]

fig.update_layout(
    width=W, height=H, margin=dict(l=L, r=R, t=T, b=B),
    paper_bgcolor="white", plot_bgcolor="white", showlegend=False,
    font=dict(family=FONT, color="black", size=42),
    xaxis=dict(
        range=[0, X_MAX], tickmode="array", tickvals=x_major_ticks,
        ticktext=[str(v) for v in x_major_ticks],
        ticks="outside", ticklen=22, tickwidth=3, tickcolor="black",
        showline=True, linewidth=3, linecolor="black", mirror="ticks",
        showgrid=False, zeroline=False, tickfont=dict(size=42, family=FONT, color="black"),
        ticklabelstandoff=-10,
        minor=dict(tickvals=x_minor_ticks, ticks="outside", ticklen=12, tickwidth=3,
                   tickcolor="black", showgrid=False),
    ),
    yaxis=dict(
        type="log", range=[4, 11], tickmode="array",
        tickvals=[10 ** e for e in y_major_exps],
        ticktext=["10<sup>%d</sup>" % e for e in y_major_exps],
        ticks="outside", ticklen=22, tickwidth=3, tickcolor="black",
        showline=True, linewidth=3, linecolor="black", mirror=False,
        showgrid=False, zeroline=False, tickfont=dict(size=42, family=FONT, color="black"),
        ticklabelstandoff=10,
        minor=dict(tickvals=y_minor, ticks="outside", ticklen=13, tickwidth=3,
                   tickcolor="black", showgrid=False),
    ),
)

shapes = []
annotations = []
for lab, col, yy in zip(legend_labels, series_colors, [72, 133, 193]):
    shapes.append(dict(type="line", xref="paper", yref="paper", x0=px(265), x1=px(378),
                       y0=py(yy), y1=py(yy), line=dict(color=col, width=1.5)))
    annotations.append(dict(text=lab, xref="paper", yref="paper", x=px(390), y=py(yy + 1),
                            xanchor="left", yanchor="middle", showarrow=False,
                            font=dict(size=50, family=FONT, color="black")))


def note(text, x, y, size, xanchor="left", angle=0):
    annotations.append(dict(text=text, xref="paper", yref="paper", x=px(x), y=py(y),
                            xanchor=xanchor, yanchor="middle", showarrow=False, textangle=angle,
                            font=dict(size=size, family=FONT, color="black")))


note("He 30.4 nm", 597, 212, 28, xanchor="center", angle=-90)
right_block = ["40-120 nm:", "Min to Max:\u00a0 Background", "continuum changes",
               "Max to Flare:\u00a0 Coronal lines", "are added"]
for i, t in enumerate(right_block):
    note(t, 927, 823 + i * 51.3, 42.5)
note("Background continuum", 135, 918, 42.5, xanchor="right")
note("changes", 78, 1072, 42.5, xanchor="right")
note("lines are", 95, 1122, 42.5, xanchor="right")
note("Photons/cm<sup>2</sup>/sec", 43, 588, 51, xanchor="center", angle=-90)
note("Wavelengnth nm", 895, 1200, 50, xanchor="center")

fig.update_layout(shapes=shapes, annotations=annotations)
fig.write_html("out.html")
